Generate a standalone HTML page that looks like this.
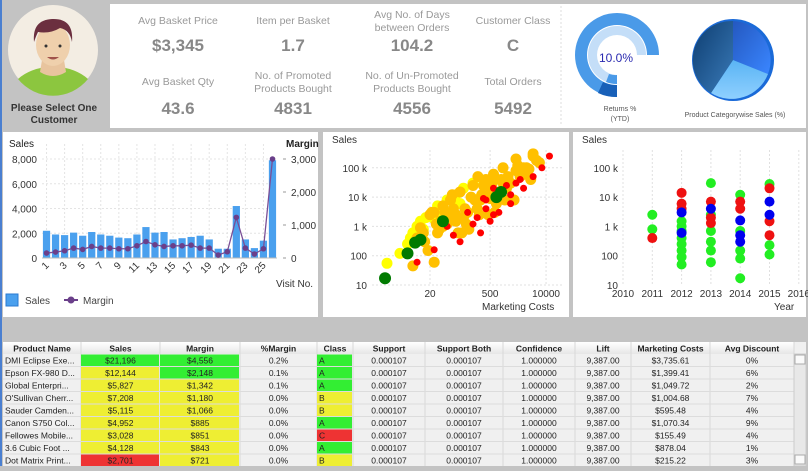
<!DOCTYPE html>
<html><head><meta charset="utf-8"><style>
body{margin:0;width:808px;height:466px;overflow:hidden;background:#c3c3c3;font-family:"Liberation Sans",sans-serif;}
svg text{font-family:"Liberation Sans",sans-serif;}
</style></head><body>
<svg id="s" width="808" height="466" xmlns="http://www.w3.org/2000/svg">
<defs>
<linearGradient id="pg1" x1="0" y1="0" x2="1" y2="1"><stop offset="0" stop-color="#0d3d70"/><stop offset="1" stop-color="#3a7ab8"/></linearGradient>
<linearGradient id="pg2" x1="0" y1="0" x2="1" y2="1"><stop offset="0" stop-color="#2458c0"/><stop offset="1" stop-color="#3a86ff"/></linearGradient>
<linearGradient id="pg3" x1="0" y1="0" x2="0" y2="1"><stop offset="0" stop-color="#5ab4f4"/><stop offset="1" stop-color="#8fd0ff"/></linearGradient>
<linearGradient id="hd" x1="0" y1="0" x2="0" y2="1"><stop offset="0" stop-color="#ffffff"/><stop offset="1" stop-color="#e6e6e6"/></linearGradient>
</defs>
<rect x="0" y="0" width="808" height="466" fill="#c3c3c3"/>
<rect x="0" y="0" width="2" height="466" fill="#4a7fd0"/>
<g>
<circle cx="53" cy="50" r="45" fill="#f3ede3"/>
<path d="M18 79 Q30 68 53 66 Q76 68 88 79 A45 45 0 0 1 18 79Z" fill="#8cc63f"/>
<path d="M42 60 L64 60 L66 72 Q53 80 40 72Z" fill="#e8c49e"/>
<ellipse cx="53" cy="45" rx="17" ry="21" fill="#efd0ac"/>
<path d="M34 42 Q32 20 52 19 Q74 18 72 42 Q70 30 60 28 Q50 34 38 32 Q36 36 34 42Z" fill="#6b2f3f"/>
<circle cx="46" cy="46" r="1.5" fill="#333"/><circle cx="60" cy="46" r="1.5" fill="#333"/>
<path d="M47 57 Q53 62 59 57" fill="#a0524a"/>
</g>
<text x="54" y="111" font-size="10" font-weight="bold" fill="#333" text-anchor="middle">Please Select One</text>
<text x="54" y="123" font-size="10" font-weight="bold" fill="#333" text-anchor="middle">Customer</text>
<rect x="110" y="4" width="696" height="124" fill="#fff"/>
<line x1="561" y1="6" x2="561" y2="126" stroke="#ddd" stroke-dasharray="2,2"/>
<g id="kpis" fill="#999" font-size="10.5" text-anchor="middle"></g>
<g>
<path d="M617 97 A42 42 0 1 1 659 55 L647 55 A30 30 0 1 0 617 85 Z" fill="#4a9ae8"/>
<path d="M617 97 A42 42 0 0 1 598 93 L603 82 A30 30 0 0 0 617 85Z" fill="#1860b8"/>
<path d="M617 84 A29 29 0 1 1 646 55 L637 55 A20 20 0 1 0 617 75 Z" fill="#c4def8"/>
<path d="M617 84 A29 29 0 0 1 606 82 L609 74 A20 20 0 0 0 617 75Z" fill="#4a9ae8"/>
<text x="616" y="62" font-size="12" fill="#2a2ab0" text-anchor="middle">10.0%</text>
<text x="620" y="111" font-size="7" fill="#555" text-anchor="middle">Returns %</text>
<text x="620" y="121" font-size="7" fill="#555" text-anchor="middle">(YTD)</text>
</g>
<g>
<circle cx="733" cy="60" r="41" fill="#1a6ad8"/>
<path d="M733 60 L733 21 A39 39 0 0 1 768 74Z" fill="url(#pg2)"/>
<path d="M733 60 L768 74 A39 39 0 0 1 711 93Z" fill="url(#pg3)"/>
<path d="M733 60 L711 93 A39 39 0 0 1 733 21Z" fill="url(#pg1)"/>
<text x="735" y="117" font-size="7" fill="#555" text-anchor="middle">Product Categorywise Sales (%)</text>
</g>
<rect x="3" y="132" width="315" height="185" fill="#fff"/>
<rect x="323" y="132" width="246" height="185" fill="#fff"/>
<rect x="573" y="132" width="233" height="185" fill="#fff"/>
<g id="bar"></g><g id="sc"></g><g id="yr"></g>
<g id="tbl"></g>
</svg>
<script>
// ---- bar/line chart data ----
const visits=[1,2,3,4,5,6,7,8,9,10,11,12,13,14,15,16,17,18,19,20,21,22,23,24,25,26];
const salesVals=[2200,1900,1850,2050,1800,2100,1900,1800,1650,1600,1900,2500,2050,2100,1500,1600,1700,1800,1500,750,750,4200,1500,800,1400,7900];
const marginVals=[150,180,220,300,260,350,300,300,280,280,370,500,400,350,370,370,390,300,300,90,190,1230,300,120,280,3000];
const salesTicks=[0,2000,4000,6000,8000];
const marginTicks=[0,1000,2000,3000];
// ---- scatter data ----
const scOrangeX=[8,25,12,15,20,30,40,25,50,60,80,100,120,150,200,250,300,400,500,600,800,1000,1500,2000,3000,4000,5000,2500,1200,700,350,180,90,45,35,70,140,280,560,1100,2200,4400,6000,10,18,28,55,110,220,450,900,1800,3500,14,22,33,66,130,260,520,1000,2000,160,320,640,1300,40,80,5000,7000,3000];
const scOrangeY=[45,60,900,300,2500,600,5000,3000,1200,8000,1500,15000,2000,3000,25000,4000,8000,40000,9000,60000,15000,100000,30000,200000,60000,90000,250000,50000,20000,6000,25000,10000,600,3000,1500,4000,1200,2500,30000,8000,120000,40000,180000,400,150,1200,2000,600,8000,2500,40000,8000,100000,600,3000,800,12000,4000,50000,15000,30000,80000,800,12000,3000,50000,1000,2500,300000,150000,100000];
const scYellowX=[2,4,6,8,10,12,16,20,30,50,80,120,200,7,14,25,9,100,300,40];
const scYellowY=[55,120,250,600,1000,1500,2000,2500,5000,8000,12000,20000,30000,400,800,1800,300,6000,10000,3000];
const scRedX=[10,25,50,70,100,150,250,300,400,500,600,800,1000,1500,2000,3000,5000,8000,12000,700,400,350,1200,2500,200,600,1500];
const scRedY=[60,160,1000,500,300,3000,2000,600,8000,1500,20000,3000,15000,6000,30000,20000,50000,100000,250000,12000,4000,9000,25000,40000,1200,2500,12000];
const scGreenX=[1.8,6,9,12,40,700,900];
const scGreenY=[17,120,280,350,1500,10000,15000];
const scXTicks=[20,500,10000];
const logYTicks=[10,100,1000,10000,100000];
const logYLabels=["10","100","1 k","10 k","100 k"];
// ---- year plot data ----
const yrYears=[2011,2011,2011,2012,2012,2012,2012,2012,2012,2012,2012,2012,2012,2012,2012,2013,2013,2013,2013,2013,2013,2013,2013,2013,2013,2014,2014,2014,2014,2014,2014,2014,2014,2014,2014,2015,2015,2015,2015,2015,2015,2015,2015];
const yrSales=[2500,800,400,1500,1000,700,400,250,150,90,50,14000,6000,4000,3000,30000,2500,700,300,150,60,7000,2000,1300,4000,12000,700,150,80,17,7000,4000,1600,300,500,28000,230,110,20000,1500,500,7000,2500];
const yrClass=["A","A","C","A","A","A","A","A","A","A","A","C","C","C","B","A","A","A","A","A","A","C","C","C","B","A","A","A","A","A","C","C","B","B","B","A","A","A","C","C","C","B","B"];
const yrBlue=[2012,600];
const yrXTicks=[2010,2011,2012,2013,2014,2015,2016];
// ---- table data ----
const colNames=["Product Name","Sales","Margin","%Margin","Class","Support","Support Both","Confidence","Lift","Marketing Costs","Avg Discount"];
const prodNames=["DMI Eclipse Exe...","Epson FX-980 D...","Global Enterpri...","O'Sullivan Cherr...","Sauder Camden...","Canon S750 Col...","Fellowes Mobile...","3.6 Cubic Foot ...","Dot Matrix Print..."];
const prodSales=[21196,12144,5827,7208,5115,4952,3028,4128,2701];
const prodMargin=[4556,2148,1342,1180,1066,885,851,843,721];
const prodPct=["0.2%","0.1%","0.1%","0.0%","0.0%","0.0%","0.0%","0.0%","0.0%"];
const prodClass=["A","A","A","B","B","A","C","A","B"];
const prodMkt=["$3,735.61","$1,399.41","$1,049.72","$1,004.68","$595.48","$1,070.34","$155.49","$878.04","$215.22"];
const prodDisc=["0%","6%","2%","7%","4%","9%","4%","1%","3%"];

const NS="http://www.w3.org/2000/svg";
function mk(p,tag,a,txt){const e=document.createElementNS(NS,tag);for(const k in a)e.setAttribute(k,a[k]);if(txt!==undefined)e.textContent=txt;p.appendChild(e);return e;}
const fmt=n=>n.toLocaleString('en-US');

const kp=document.getElementById('kpis');
const kpis=[[178,["Avg Basket Price"],"$3,345",["Avg Basket Qty"],"43.6"],[293,["Item per Basket"],"1.7",["No. of Promoted","Products Bought"],"4831"],[412,["Avg No. of Days","between Orders"],"104.2",["No. of Un-Promoted","Products Bought"],"4556"],[513,["Customer Class"],"C",["Total Orders"],"5492"]];
kpis.forEach(k=>{
 const l1=k[1].length==1?[24]:[18,31];
 k[1].forEach((t,i)=>{const e=mk(kp,'text',{x:k[0],y:l1[i]},t);});
 let e=mk(kp,'text',{x:k[0],y:51,'font-size':17,'font-weight':'bold',fill:'#888'},k[2]);
 
 const l2=k[3].length==1?[85]:[79,92];
 k[3].forEach((t,i)=>{const e=mk(kp,'text',{x:k[0],y:l2[i]},t);});
 e=mk(kp,'text',{x:k[0],y:114,'font-size':17,'font-weight':'bold',fill:'#888'},k[4]);
 
});

(function(){
 const g=document.getElementById('bar');
 const x0=42,x1=277,yB=258,yT=159;
 const bw=(x1-x0)/visits.length;
 const xs=i=>x0+bw*(i+0.5);
 const ys=v=>yB-(v/8000)*(yB-yT);
 const ym=v=>yB-(v/3000)*(yB-yT);
 visits.forEach((v,i)=>{if(v%2==1)mk(g,'line',{x1:xs(i),x2:xs(i),y1:yT-15,y2:yB,stroke:'#e4e4e4','stroke-dasharray':'2,2'});});
 salesTicks.forEach(t=>{mk(g,'line',{x1:x0,x2:x1,y1:ys(t),y2:ys(t),stroke:'#e4e4e4','stroke-dasharray':'2,2'});
  const e=mk(g,'text',{x:37,y:ys(t)+4,'font-size':10,fill:'#333','text-anchor':'end'},fmt(t));});
 marginTicks.forEach(t=>{mk(g,'line',{x1:283,x2:286,y1:ym(t),y2:ym(t),stroke:'#999'});
  const e=mk(g,'text',{x:291,y:ym(t)+4,'font-size':10,fill:'#333'},fmt(t));});
 mk(g,'text',{x:9,y:147,'font-size':10,fill:'#222'},'Sales');
 mk(g,'text',{x:286,y:147,'font-size':10,fill:'#222','font-weight':'bold'},'Margin');
 mk(g,'text',{x:276,y:287,'font-size':10,fill:'#333'},'Visit No.');
 salesVals.forEach((v,i)=>{const r=mk(g,'rect',{x:xs(i)-bw*0.4,y:ys(v),width:bw*0.8,height:yB-ys(v),fill:'#4aa0ee'});
  });
 mk(g,'line',{x1:x0,x2:x1,y1:yB,y2:yB,stroke:'#bbb'});
 mk(g,'polyline',{points:marginVals.map((v,i)=>xs(i)+','+ym(v)).join(' '),fill:'none',stroke:'#7a4f96','stroke-width':1.3});
 marginVals.forEach((v,i)=>{const c=mk(g,'circle',{cx:xs(i),cy:ym(v),r:2.8,fill:'#6a3f8a'});});
 visits.forEach((v,i)=>{if(v%2==1){const e=mk(g,'text',{x:xs(i)+3,y:266,'font-size':10,fill:'#333','text-anchor':'end',transform:`rotate(-45 ${xs(i)+3} 266)`},v);}});
 mk(g,'rect',{x:6,y:294,width:12,height:12,fill:'#4aa0ee',stroke:'#2a7ad0'});
 mk(g,'text',{x:25,y:304,'font-size':10,fill:'#444'},'Sales');
 mk(g,'line',{x1:64,x2:78,y1:300,y2:300,stroke:'#6a3f8a','stroke-width':2});
 mk(g,'circle',{cx:71,cy:300,r:3.5,fill:'#6a3f8a'});
 mk(g,'text',{x:83,y:304,'font-size':10,fill:'#444'},'Margin');
})();

const lyT=v=>285-(Math.log10(v)-1)*29.3;
(function(){
 const g=document.getElementById('sc');
 const xs=v=>430+(Math.log10(v)-Math.log10(20))*43;
 scXTicks.forEach(t=>{mk(g,'line',{x1:xs(t),x2:xs(t),y1:150,y2:285,stroke:'#e0e0e0','stroke-dasharray':'2,2'});
  const e=mk(g,'text',{x:xs(t),y:297,'font-size':10,fill:'#333','text-anchor':'middle'},t);});
 logYTicks.forEach((t,i)=>{mk(g,'line',{x1:372,x2:564,y1:lyT(t),y2:lyT(t),stroke:'#e0e0e0','stroke-dasharray':'2,2'});
  const e=mk(g,'text',{x:367,y:lyT(t)+4,'font-size':10,fill:'#333','text-anchor':'end'},logYLabels[i]);});
 mk(g,'text',{x:332,y:143,'font-size':10,fill:'#333'},'Sales');
 mk(g,'text',{x:482,y:310,'font-size':10,fill:'#333'},'Marketing Costs');
 const draw=(X,Y,col,r)=>X.forEach((x,i)=>{const c=mk(g,'circle',{cx:xs(x),cy:lyT(Y[i]),r:r,fill:col});});
 draw(scYellowX,scYellowY,'#ffff00',5.5);
 draw(scOrangeX,scOrangeY,'#ffc000',5.5);
 draw(scRedX,scRedY,'#ff0000',3.5);
 draw(scGreenX,scGreenY,'#007a00',6);
})();

(function(){
 const g=document.getElementById('yr');
 const xs=y=>623+(y-2010)*29.3;
 yrXTicks.forEach(t=>{mk(g,'line',{x1:xs(t),x2:xs(t),y1:150,y2:285,stroke:'#e0e0e0','stroke-dasharray':'2,2'});
  const e=mk(g,'text',{x:xs(t),y:297,'font-size':10,fill:'#333','text-anchor':'middle'},t);});
 logYTicks.forEach((t,i)=>{const e=mk(g,'text',{x:618,y:lyT(t)+4,'font-size':10,fill:'#333','text-anchor':'end'},logYLabels[i]);});
 mk(g,'text',{x:582,y:143,'font-size':10,fill:'#333'},'Sales');
 mk(g,'text',{x:774,y:310,'font-size':10,fill:'#333'},'Year');
 const col={A:'#22ee22',B:'#0000ee',C:'#ee1111'};
 yrYears.forEach((y,i)=>{const c=mk(g,'circle',{cx:xs(y),cy:lyT(yrSales[i]),r:5,fill:col[yrClass[i]]});});
 const c=mk(g,'circle',{cx:xs(yrBlue[0]),cy:lyT(yrBlue[1]),r:5,fill:'#0000ee'});
})();

(function(){
 const g=document.getElementById('tbl');
 const cx=[3,81,160,240,317,353,425,503,575,631,710,794];
 mk(g,'rect',{x:3,y:342,width:803,height:124,fill:'#f0f0f0'});
 mk(g,'rect',{x:3,y:342,width:791,height:12,fill:'url(#hd)'});
 colNames.forEach((n,i)=>{const e=mk(g,'text',{x:(cx[i]+cx[i+1])/2,y:351.5,'font-size':8.5,'font-weight':'bold',fill:'#222','text-anchor':'middle'},n);
  mk(g,'line',{x1:cx[i+1],x2:cx[i+1],y1:342,y2:466,stroke:'#d8d8d8'});});
 const rh=12.5;
 const cls={A:'#33ee33',B:'#eeee33',C:'#ee3333'};
 const sc=v=>v>15000?'#33ee33':v>2800?'#eeee33':'#ee3333';
 const mc=v=>v>2000?'#33ee33':'#eeee33';
 prodNames.forEach((p,r)=>{
  const y=354+r*rh;
  mk(g,'rect',{x:cx[1],y:y+0.5,width:cx[2]-cx[1]-1,height:rh-1,fill:sc(prodSales[r])});
  mk(g,'rect',{x:cx[2],y:y+0.5,width:cx[3]-cx[2]-1,height:rh-1,fill:mc(prodMargin[r])});
  mk(g,'rect',{x:cx[4],y:y+0.5,width:cx[5]-cx[4]-1,height:rh-1,fill:cls[prodClass[r]]});
  mk(g,'line',{x1:3,x2:794,y1:y+rh,y2:y+rh,stroke:'#dcdcdc'});
  const cells=[p,'$'+fmt(prodSales[r]),'$'+fmt(prodMargin[r]),prodPct[r],prodClass[r],'0.000107','0.000107','1.000000','9,387.00',prodMkt[r],prodDisc[r]];
  cells.forEach((t,i)=>{const al=i==0||i==4;const e=mk(g,'text',{x:al?cx[i]+2:(cx[i]+cx[i+1])/2,y:y+9.5,'font-size':8.5,fill:'#222','text-anchor':al?'start':'middle'},t);
   });
 });
 mk(g,'rect',{x:794,y:354,width:12,height:112,fill:'#e8e8e8',stroke:'#ccc'});
 mk(g,'rect',{x:795,y:355,width:10,height:9,fill:'#fafafa',stroke:'#aaa'});
 mk(g,'rect',{x:795,y:455,width:10,height:9,fill:'#fafafa',stroke:'#aaa'});
})();
</script>
</body></html>
